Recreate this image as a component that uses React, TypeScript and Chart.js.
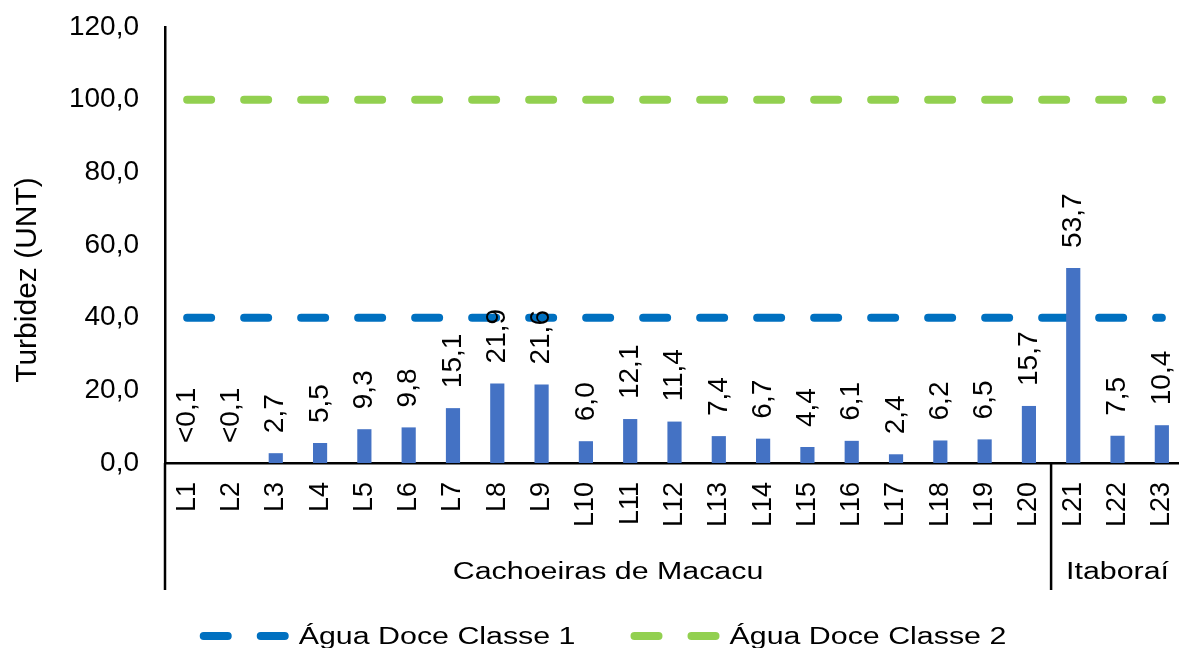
import React, { useEffect, useRef } from 'react';
import { Chart, registerables } from 'chart.js';

Chart.register(...registerables);

const FONT = '"Liberation Sans", Arial, sans-serif';

const categories = ['L1', 'L2', 'L3', 'L4', 'L5', 'L6', 'L7', 'L8', 'L9', 'L10', 'L11', 'L12', 'L13', 'L14', 'L15', 'L16', 'L17', 'L18', 'L19', 'L20', 'L21', 'L22', 'L23'];
const turbidity = [0, 0, 2.7, 5.5, 9.3, 9.8, 15.1, 21.9, 21.6, 6.0, 12.1, 11.4, 7.4, 6.7, 4.4, 6.1, 2.4, 6.2, 6.5, 15.7, 53.7, 7.5, 10.4];
const valueLabels = ['<0,1', '<0,1', '2,7', '5,5', '9,3', '9,8', '15,1', '21,9', '21,6', '6,0', '12,1', '11,4', '7,4', '6,7', '4,4', '6,1', '2,4', '6,2', '6,5', '15,7', '53,7', '7,5', '10,4'];
const class1Limit = [40, 40, 40, 40, 40, 40, 40, 40, 40, 40, 40, 40, 40, 40, 40, 40, 40, 40, 40, 40, 40, 40, 40];
const class2Limit = [100, 100, 100, 100, 100, 100, 100, 100, 100, 100, 100, 100, 100, 100, 100, 100, 100, 100, 100, 100, 100, 100, 100];
const groupNames = ['Cachoeiras de Macacu', 'Itaboraí'];
const groupSizes = [20, 3];
const yTicks = [0, 20, 40, 60, 80, 100, 120];
const yTitle = 'Turbidez (UNT)';

const fmt = (v: number) => v.toFixed(1).replace('.', ',');

const zeroPad = (s: any) => {
  s.paddingTop = 0;
  s.paddingBottom = 0;
  s.paddingLeft = 0;
  s.paddingRight = 0;
};

const overlay = {
  id: 'overlay',
  afterDatasetsDraw(chart: any) {
    const ctx = chart.ctx;
    const meta = chart.getDatasetMeta(0);
    ctx.save();
    ctx.fillStyle = '#000';
    ctx.font = `28px ${FONT}`;
    ctx.textAlign = 'left';
    ctx.textBaseline = 'middle';
    meta.data.forEach((bar: any, i: number) => {
      ctx.save();
      ctx.translate(bar.x, bar.y - 20);
      ctx.rotate(-Math.PI / 2);
      ctx.fillText(valueLabels[i], 0, 0);
      ctx.restore();
    });
    ctx.restore();
  },
  afterDraw(chart: any) {
    const ctx = chart.ctx;
    const { left, bottom } = chart.chartArea;
    const xs = chart.scales.x;
    const lowY = 590;
    const half = (xs.getPixelForValue(1) - xs.getPixelForValue(0)) / 2;

    ctx.save();
    ctx.strokeStyle = '#000';
    ctx.lineWidth = 2.5;
    ctx.beginPath();
    ctx.moveTo(left, bottom);
    ctx.lineTo(left, lowY);
    ctx.stroke();

    let start = 0;
    const sx = 1.32;
    ctx.font = `23px ${FONT}`;
    ctx.fillStyle = '#000';
    ctx.textAlign = 'center';
    ctx.textBaseline = 'alphabetic';
    groupNames.forEach((name, g) => {
      const end = start + groupSizes[g] - 1;
      const x0 = xs.getPixelForValue(start) - half;
      const x1 = xs.getPixelForValue(end) + half;
      if (g > 0) {
        ctx.beginPath();
        ctx.moveTo(x0, bottom);
        ctx.lineTo(x0, lowY);
        ctx.stroke();
      }
      ctx.save();
      ctx.translate((x0 + x1) / 2, 579);
      ctx.scale(sx, 1);
      ctx.fillText(name, 0, 0);
      ctx.restore();
      start = end + 1;
    });

    ctx.save();
    ctx.font = `30px ${FONT}`;
    ctx.textAlign = 'center';
    ctx.textBaseline = 'middle';
    ctx.translate(28, 280);
    ctx.rotate(-Math.PI / 2);
    ctx.fillText(yTitle, 0, 0);
    ctx.restore();

    const items = chart.data.datasets.slice(1);
    const lineLen = 89;
    const gapText = 10;
    const gapItem = 55;
    ctx.font = `23px ${FONT}`;
    const widths = items.map((d: any) => ctx.measureText(d.label).width * sx);
    let total = 0;
    widths.forEach((w: number, i: number) => {
      total += lineLen + gapText + w + (i < widths.length - 1 ? gapItem : 0);
    });
    let lx = 603 - total / 2;
    const ly = 636;
    items.forEach((d: any, i: number) => {
      ctx.save();
      ctx.strokeStyle = d.borderColor;
      ctx.lineWidth = 8;
      ctx.lineCap = 'round';
      ctx.setLineDash([24, 33]);
      ctx.beginPath();
      ctx.moveTo(lx + 4, ly);
      ctx.lineTo(lx + lineLen - 4, ly);
      ctx.stroke();
      ctx.restore();
      ctx.save();
      ctx.fillStyle = '#000';
      ctx.textAlign = 'left';
      ctx.textBaseline = 'alphabetic';
      ctx.translate(lx + lineLen + gapText, 644);
      ctx.scale(sx, 1);
      ctx.fillText(d.label, 0, 0);
      ctx.restore();
      lx += lineLen + gapText + widths[i] + gapItem;
    });
    ctx.restore();
  },
};

export default function App() {
  const ref = useRef<HTMLCanvasElement>(null);

  useEffect(() => {
    const canvas = ref.current as HTMLCanvasElement;
    const chart = new Chart(canvas, {
      type: 'bar',
      data: {
        labels: categories,
        datasets: [
          {
            type: 'bar',
            label: 'Turbidez',
            data: turbidity,
            backgroundColor: '#4472C4',
            barPercentage: 0.32,
            categoryPercentage: 1,
            order: 0,
          } as any,
          {
            type: 'line',
            label: 'Água Doce Classe 1',
            data: class1Limit,
            borderColor: '#0070C0',
            backgroundColor: '#0070C0',
            borderWidth: 8,
            borderDash: [24, 33],
            borderCapStyle: 'round',
            pointRadius: 0,
            fill: false,
            order: 1,
          } as any,
          {
            type: 'line',
            label: 'Água Doce Classe 2',
            data: class2Limit,
            borderColor: '#92D050',
            backgroundColor: '#92D050',
            borderWidth: 8,
            borderDash: [24, 33],
            borderCapStyle: 'round',
            pointRadius: 0,
            fill: false,
            order: 1,
          } as any,
        ],
      },
      options: {
        responsive: false,
        animation: false,
        devicePixelRatio: 1,
        layout: { padding: { top: 27, right: 2, bottom: 0, left: 0 } },
        plugins: { legend: { display: false }, tooltip: { enabled: false } },
        scales: {
          x: {
            grid: { display: false, drawTicks: false },
            border: { display: true, color: '#000', width: 2.5 },
            ticks: {
              font: { family: FONT, size: 27 },
              color: '#000',
              minRotation: 90,
              maxRotation: 90,
              autoSkip: false,
              padding: 19,
            },
            afterFit(s: any) {
              s.height = 185;
              zeroPad(s);
            },
          },
          y: {
            min: yTicks[0],
            max: yTicks[yTicks.length - 1],
            grid: { display: false, drawTicks: false },
            border: { display: true, color: '#000', width: 2.5 },
            ticks: {
              stepSize: yTicks[1] - yTicks[0],
              font: { family: FONT, size: 28 },
              color: '#000',
              padding: 26,
              callback: (v: any) => fmt(Number(v)),
            },
            afterFit(s: any) {
              s.width = 165;
              zeroPad(s);
            },
          },
        },
      } as any,
      plugins: [overlay],
    });
    return () => chart.destroy();
  }, []);

  return (
    <div
      style={{
        position: 'fixed',
        left: 0,
        top: 0,
        width: 1179,
        height: 648,
        overflow: 'hidden',
        background: '#fff',
      }}
    >
      <canvas ref={ref} width={1186} height={648} style={{ display: 'block', width: 1186, height: 648 }} />
    </div>
  );
}
